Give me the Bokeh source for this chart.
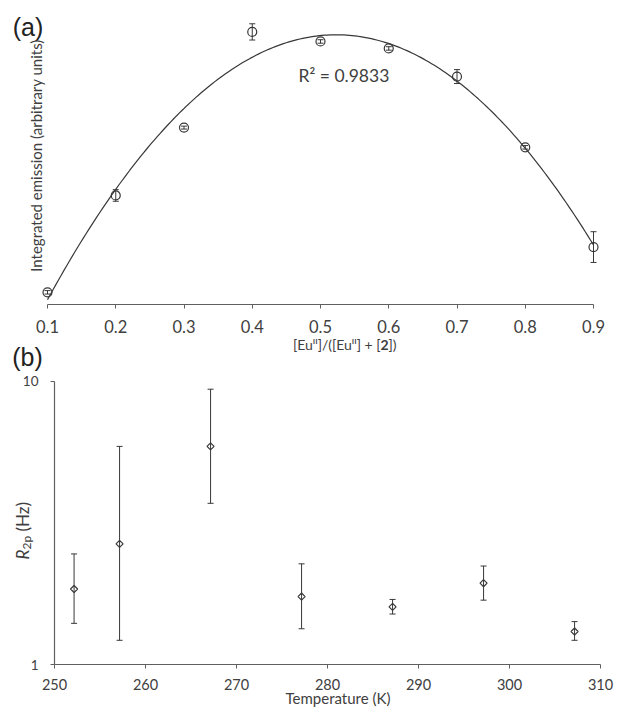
import numpy as np
from bokeh.plotting import figure
from bokeh.models import (ColumnDataSource, Whisker, TeeHead, FixedTicker, Label,
                          Range1d, PrintfTickFormatter)
from bokeh.layouts import column
from bokeh.embed import file_html
from bokeh.resources import INLINE

# ---------------- data: panel (a) ----------------
ratio = [0.1, 0.2, 0.3, 0.4, 0.5, 0.6, 0.7, 0.8, 0.9]
emission = [4.2, 37.6, 61.0, 94.0, 90.7, 88.3, 78.6, 54.2, 19.8]
emission_err = [0.6, 2.0, 0.5, 2.8, 0.6, 0.6, 2.4, 0.6, 5.3]
ratio_ticks = [0.1, 0.2, 0.3, 0.4, 0.5, 0.6, 0.7, 0.8, 0.9]
r_squared_text = "R\u00b2 = 0.9833"

# ---------------- data: panel (b) ----------------
temperature = [252.15, 257.15, 267.15, 277.15, 287.15, 297.15, 307.15]
r2p = [1.85, 2.67, 5.89, 1.74, 1.60, 1.94, 1.31]
r2p_upper = [2.46, 5.89, 9.37, 2.27, 1.70, 2.23, 1.42]
r2p_lower = [1.40, 1.22, 3.71, 1.34, 1.51, 1.69, 1.22]
temp_ticks = [250, 260, 270, 280, 290, 300, 310]
r2p_ticks = [1, 10]

FONT = "Lato"
PFONT = "Liberation Sans"
AX = "#606060"
INK = "#383838"
TXT = "#404040"
W = 624
H1 = 372
H2 = 348

# ---- pixel -> data helpers (layout of the picture) ----
KXA = 682.5          # px per unit on the x axis of (a)
X0A = 47             # canvas x of ratio 0.1
Y0A = 304            # canvas y of the (a) axis line
KYA = 2.9            # px per arbitrary unit


def xa(px):
    return 0.1 + (px - X0A) / KXA


def ya(py):
    return (Y0A - py) / KYA


KXB = 9.1            # px per K
X0B = 54             # canvas x of 250 K
Y1B = 292.3          # canvas y of R2p = 1
DEC = 283.6          # px per decade


def xb(px):
    return 250 + (px - X0B) / KXB


def yb(py):
    return 10 ** ((Y1B - py) / DEC)


def lab(p, x, y, text, size, font=FONT, align="center", style="normal", angle=0.0,
        color=TXT):
    p.add_layout(Label(x=x, y=y, text=text, text_align=align, text_baseline="middle",
                       text_font=font, text_font_size=size, text_font_style=style,
                       angle=angle, text_color=color))


# ================= panel (a) =================
pa = figure(width=W, height=H1, x_range=Range1d(xa(0), xa(W)), y_range=Range1d(ya(H1), ya(0)),
            output_backend="svg", toolbar_location=None, min_border=0)
pa.outline_line_color = None
pa.grid.visible = False
pa.yaxis.visible = False

xax = pa.xaxis[0]
xax.fixed_location = 0
xax.ticker = FixedTicker(ticks=ratio_ticks)
xax.bounds = (ratio_ticks[0], ratio_ticks[-1])
xax.axis_line_color = AX
xax.axis_line_width = 1.2
xax.major_tick_line_color = AX
xax.major_tick_in = 0
xax.major_tick_out = 4
xax.minor_tick_line_color = None
xax.major_label_text_font = FONT
xax.major_label_text_font_size = "16.5px"
xax.major_label_text_color = TXT
xax.major_label_standoff = 11

src_a = ColumnDataSource(dict(
    x=ratio, y=emission,
    upper=[v + e for v, e in zip(emission, emission_err)],
    lower=[v - e for v, e in zip(emission, emission_err)],
))

coef = np.polyfit(ratio, emission, 2)
xs = np.linspace(ratio[0], ratio[-1], 200)
pa.line(xs, np.polyval(coef, xs), line_color=INK, line_width=1.2)

pa.add_layout(Whisker(source=src_a, base="x", upper="upper", lower="lower",
                      line_color=INK, line_width=1,
                      upper_head=TeeHead(size=6, line_color=INK, line_width=1),
                      lower_head=TeeHead(size=6, line_color=INK, line_width=1)))
pa.scatter("x", "y", source=src_a, marker="circle", size=9, fill_color=None,
           line_color=INK, line_width=1.2)

lab(pa, xa(298), ya(75), r_squared_text, "17.5px", align="left")
lab(pa, xa(27.5), ya(26.5), "(a)", "25px", font=PFONT, color="#222222")
lab(pa, xa(27), ya(356), "(b)", "25px", font=PFONT, color="#222222")
lab(pa, xa(35.5), ya(155), "Integrated emission (arbitrary units)", "15px", angle=np.pi / 2)

# composite x-axis label of (a): [Eu^II]/([Eu^II] + [2])
lab(pa, xa(380), ya(344), "[Eu\u1d35\u1d35]/([Eu\u1d35\u1d35] + [", "14px", align="right")
lab(pa, xa(380), ya(344), "2", "14px", align="left", style="bold")
lab(pa, xa(388), ya(344), "])", "14px", align="left")

# ================= panel (b) =================
pb = figure(width=W, height=H2, x_range=Range1d(xb(0), xb(W)), y_range=Range1d(yb(H2), yb(0)),
            y_axis_type="log", output_backend="svg", toolbar_location=None, min_border=0)
pb.outline_line_color = None
pb.grid.visible = False

xbx = pb.xaxis[0]
xbx.fixed_location = 1
xbx.ticker = FixedTicker(ticks=temp_ticks)
xbx.bounds = (temp_ticks[0], temp_ticks[-1])
xbx.axis_line_color = AX
xbx.axis_line_width = 1.2
xbx.major_tick_line_color = AX
xbx.major_tick_in = 0
xbx.major_tick_out = 4
xbx.minor_tick_line_color = None
xbx.major_label_text_font = FONT
xbx.major_label_text_font_size = "14.5px"
xbx.major_label_text_color = TXT
xbx.major_label_standoff = 10

ybx = pb.yaxis[0]
ybx.fixed_location = 250
ybx.ticker = FixedTicker(ticks=r2p_ticks)
ybx.bounds = (r2p_ticks[0], r2p_ticks[-1])
ybx.formatter = PrintfTickFormatter(format="%d")
ybx.axis_line_color = AX
ybx.axis_line_width = 1.2
ybx.major_tick_line_color = AX
ybx.major_tick_in = 0
ybx.major_tick_out = 4
ybx.minor_tick_line_color = None
ybx.major_label_text_font = FONT
ybx.major_label_text_font_size = "13.5px"
ybx.major_label_text_color = TXT
ybx.major_label_standoff = 12

src_b = ColumnDataSource(dict(x=temperature, y=r2p, upper=r2p_upper, lower=r2p_lower))
pb.add_layout(Whisker(source=src_b, base="x", upper="upper", lower="lower",
                      line_color=INK, line_width=1,
                      upper_head=TeeHead(size=6, line_color=INK, line_width=1),
                      lower_head=TeeHead(size=6, line_color=INK, line_width=1)))
pb.scatter("x", "y", source=src_b, marker="square", angle=np.pi / 4, size=5,
           fill_color=None, line_color=INK, line_width=1.2)

lab(pb, xb(337.5), yb(697 - H1), "Temperature (K)", "15px")

# composite rotated y label of (b): R_2p (Hz)
lab(pb, xb(22), yb(549 - H1), "R", "17px", align="right", style="italic", angle=np.pi / 2)
lab(pb, xb(26), yb(549 - H1), "2p", "12px", align="left", angle=np.pi / 2)
lab(pb, xb(22), yb(531 - H1), "(Hz)", "17px", align="left", angle=np.pi / 2)

layout = column(pa, pb, spacing=0)
open("out.html", "w").write(file_html(layout, INLINE))
